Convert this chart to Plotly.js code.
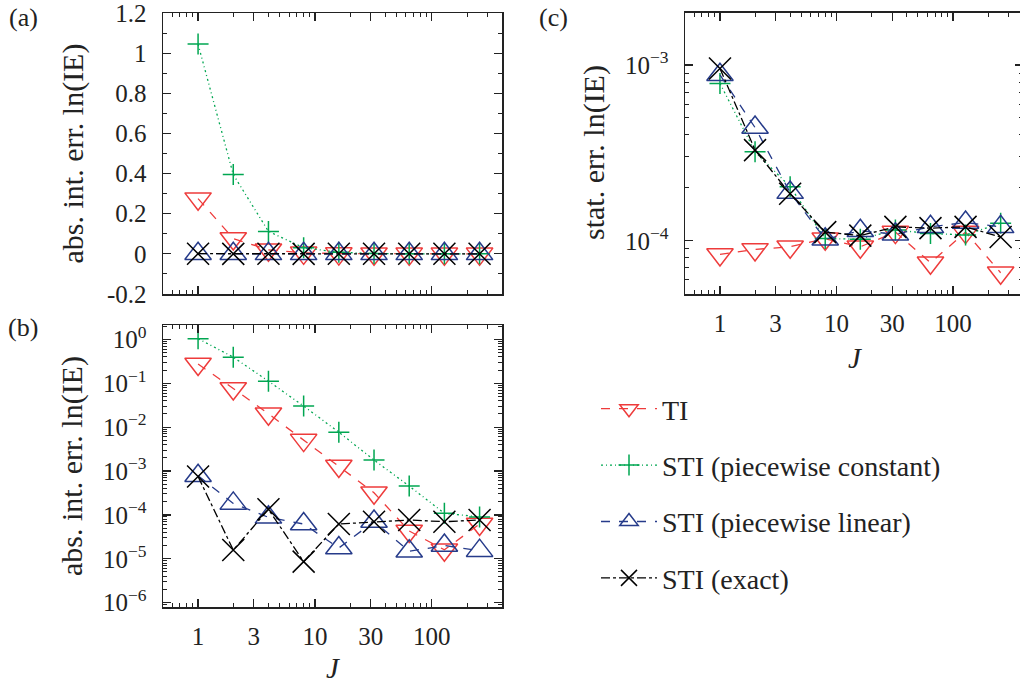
<!DOCTYPE html>
<html>
<head>
<meta charset="utf-8">
<script src="https://cdn.plot.ly/plotly-3.0.1.min.js"></script>
<style>html,body{margin:0;padding:0;overflow:hidden;background:#fff;}#chart{width:1026px;height:688px;}</style>
</head>
<body>
<div id="chart"></div>
<script>
// ---- data ----
const J = [1, 2, 4, 8, 16, 32, 64, 128, 256];
// absolute integration error of ln(IE)  (panels a and b)
const absTI        = [0.275, 0.0765, 0.0202, 0.00508, 0.0013, 3.2e-4, 4.3e-5, 1.6e-5, 6.2e-5];
const absSTIconst  = [1.045, 0.395, 0.112, 0.0303, 0.0077, 0.00178, 4.55e-4, 1.09e-4, 9.0e-5];
const absSTIlin    = [7.8e-4, 1.83e-4, 8.8e-5, 6.2e-5, 1.76e-5, 7.1e-5, 1.48e-5, 2.0e-5, 1.53e-5];
const absSTIexact  = [7.5e-4, 1.58e-5, 1.34e-4, 8.6e-6, 6.2e-5, 7.0e-5, 7.65e-5, 7.0e-5, 7.65e-5];
// statistical error of ln(IE)  (panel c)
const statTI       = [8.36e-5, 8.93e-5, 9.24e-5, 1.026e-4, 9.24e-5, 1.12e-4, 7.5e-5, 1.12e-4, 6.58e-5];
const statSTIconst = [7.86e-4, 3.21e-4, 2.03e-4, 1.03e-4, 1.02e-4, 1.15e-4, 1.1e-4, 1.08e-4, 1.26e-4];
const statSTIlin   = [8.8e-4, 4.41e-4, 1.88e-4, 1.02e-4, 1.14e-4, 1.09e-4, 1.2e-4, 1.27e-4, 1.2e-4];
const statSTIexact = [9.57e-4, 3.28e-4, 1.85e-4, 1.12e-4, 1.07e-4, 1.2e-4, 1.18e-4, 1.2e-4, 1.05e-4];

const seriesNames = ['TI', 'STI (piecewise constant)', 'STI (piecewise linear)', 'STI (exact)'];
const xTickVals = [1, 3, 10, 30, 100];
const xTickText = ['1', '3', '10', '30', '100'];
const aTickVals = [-0.2, 0, 0.2, 0.4, 0.6, 0.8, 1, 1.2];
const aTickText = ['-0.2', '0', '0.2', '0.4', '0.6', '0.8', '1', '1.2'];
const bTickVals = [1e-6, 1e-5, 1e-4, 1e-3, 1e-2, 1e-1, 1];
const bTickText = ['10<sup>−6</sup>', '10<sup>−5</sup>', '10<sup>−4</sup>', '10<sup>−3</sup>', '10<sup>−2</sup>', '10<sup>−1</sup>', '10<sup>0</sup>'];
const cTickVals = [1e-4, 1e-3];
const cTickText = ['10<sup>−4</sup>', '10<sup>−3</sup>'];

// ---- styles ----
const W = 1026, H = 688;
const FONT = 'Liberation Serif, DejaVu Serif, serif';
const TXT = '#222';
const styles = [
  {color: '#ee3b3b', dash: 'dash', symbol: 'triangle-down-open', size: 23},
  {color: '#00a651', dash: '2px,3px,1px,3px', symbol: 'cross-thin-open', size: 15},
  {color: '#263b8a', dash: 'dash', symbol: 'triangle-up-open', size: 23},
  {color: '#000000', dash: 'dashdot', symbol: 'x-thin-open', size: 22}
];
const absData = [absTI, absSTIconst, absSTIlin, absSTIexact];
const statData = [statTI, statSTIconst, statSTIlin, statSTIexact];

const traces = [];
function mk(i, ys, xa, ya, show) {
  const s = styles[i];
  return {
    x: J, y: ys, xaxis: xa, yaxis: ya, type: 'scatter', mode: 'lines+markers',
    name: seriesNames[i], legendgroup: 'g' + i, showlegend: show,
    line: {color: s.color, dash: s.dash, width: 1.3},
    marker: {symbol: s.symbol, size: s.size, color: s.color, line: {color: s.color, width: 1.5}}
  };
}
for (let i = 0; i < 4; i++) {
  traces.push(mk(i, absData[i], 'x', 'y', false));
  traces.push(mk(i, absData[i], 'x2', 'y2', true));
  traces.push(mk(i, statData[i], 'x3', 'y3', false));
}

const px = v => v / W, py = v => 1 - v / H;
const tickFont = {family: FONT, size: 25, color: TXT};
function xAxis(dom, anchor, labels) {
  return {
    domain: dom, anchor: anchor, type: 'log', range: [-0.3, 2.6],
    tickmode: 'array', tickvals: xTickVals, ticktext: xTickText, showticklabels: labels,
    ticks: 'inside', ticklen: 8, tickwidth: 1.2, tickcolor: TXT,
    minor: {ticks: 'inside', ticklen: 4, tickwidth: 1, tickcolor: TXT, dtick: 'D1', showgrid: false},
    showline: true, linecolor: TXT, linewidth: 1.5, mirror: 'allticks',
    showgrid: false, zeroline: false, tickfont: tickFont, ticklabelstandoff: 6, ticklabeloverflow: 'allow'
  };
}
function yAxis(dom, anchor, extra) {
  return Object.assign({
    domain: dom, anchor: anchor,
    ticks: 'inside', ticklen: 8, tickwidth: 1.2, tickcolor: TXT,
    showline: true, linecolor: TXT, linewidth: 1.5, mirror: 'allticks',
    showgrid: false, zeroline: false, tickfont: tickFont, ticklabelstandoff: 10, ticklabeloverflow: 'allow'
  }, extra);
}
const domAX = [px(163), px(502)], domCX = [px(685), px(1023)];
const domAY = [py(294), py(13)], domBY = [py(607), py(325)], domCY = [py(294), py(12.7)];

const ann = (x, y, text, extra) => Object.assign({
  x: px(x), y: py(y), xref: 'paper', yref: 'paper', text: text, showarrow: false,
  font: {family: FONT, size: 26, color: TXT}, xanchor: 'center', yanchor: 'middle'
}, extra || {});
const titleFont = {family: FONT, size: 30, color: TXT};

const layout = {
  width: W, height: H, margin: {l: 0, r: 0, t: 0, b: 0},
  paper_bgcolor: '#fff', plot_bgcolor: '#fff', showlegend: true,
  xaxis: xAxis(domAX, 'y', false),
  yaxis: yAxis(domAY, 'x', {range: [-0.2, 1.2], tickmode: 'array', tickvals: aTickVals, ticktext: aTickText,
    minor: {ticks: 'inside', ticklen: 4, tickwidth: 1, tickcolor: TXT, dtick: 0.1, tick0: 0, showgrid: false}}),
  xaxis2: xAxis(domAX, 'y2', true),
  yaxis2: yAxis(domBY, 'x2', {type: 'log', range: [-6.1, 0.33], tickmode: 'array', tickvals: bTickVals, ticktext: bTickText,
    minor: {ticks: 'inside', ticklen: 4, tickwidth: 1, tickcolor: TXT, dtick: 'D1', showgrid: false}}),
  xaxis3: xAxis(domCX, 'y3', true),
  yaxis3: yAxis(domCY, 'x3', {type: 'log', range: [-4.303, -2.702], tickmode: 'array', tickvals: cTickVals, ticktext: cTickText,
    minor: {ticks: 'inside', ticklen: 4, tickwidth: 1, tickcolor: TXT, dtick: 'D1', showgrid: false}}),
  legend: {x: px(596), y: py(384), xanchor: 'left', yanchor: 'top', traceorder: 'grouped', tracegroupgap: 17,
    font: {family: FONT, size: 28, color: TXT}, bgcolor: 'rgba(0,0,0,0)', itemwidth: 56},
  annotations: [
    ann(23, 17, '(a)'), ann(23, 327, '(b)'), ann(553, 17, '(c)'),
    ann(72, 153.5, 'abs. int. err. ln(IE)', {textangle: -90, font: titleFont}),
    ann(72, 466, 'abs. int. err. ln(IE)', {textangle: -90, font: titleFont}),
    ann(594, 153, 'stat. err. ln(IE)', {textangle: -90, font: titleFont}),
    ann(333, 668, '<i>J</i>', {font: {family: FONT, size: 29, color: TXT}}),
    ann(855, 358, '<i>J</i>', {font: {family: FONT, size: 29, color: TXT}})
  ]
};
Plotly.newPlot('chart', traces, layout, {staticPlot: true, displayModeBar: false});
</script>
</body>
</html>
